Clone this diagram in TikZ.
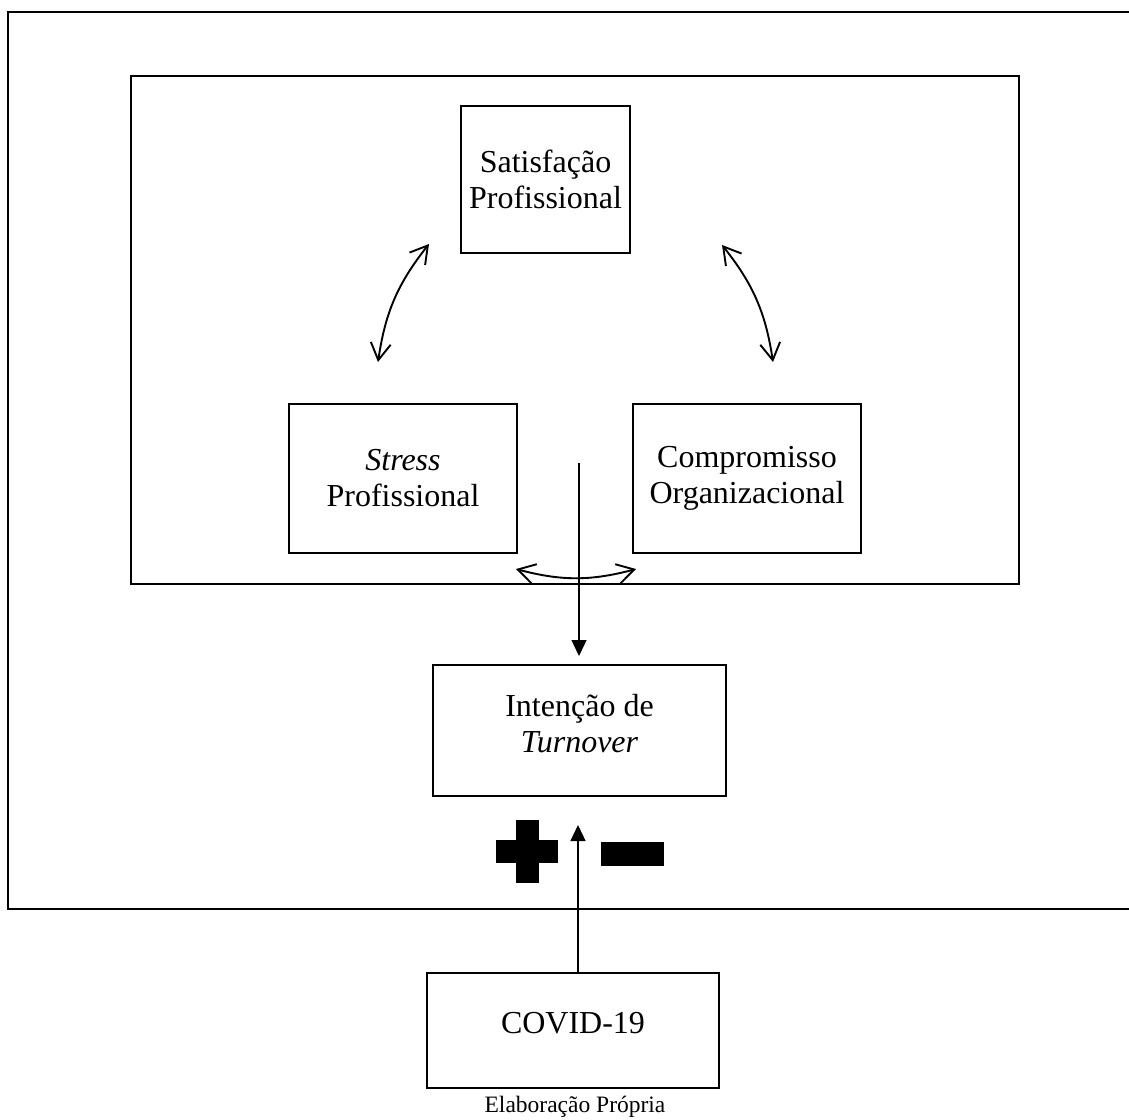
\documentclass[tikz,border=0pt]{standalone}
\usepackage{fontspec}
\setmainfont{Liberation Serif}
\usetikzlibrary{arrows.meta}
\begin{document}
\begin{tikzpicture}[x=1pt,y=-1pt,
  box/.style={draw, line width=2pt, inner sep=0pt, align=center, font=\fontsize{32}{36}\selectfont},
  frame/.style={line width=2.2pt},
  dbl/.style={line width=1.9pt, {Straight Barb[length=17pt,width=20pt,line width=1.9pt]}-{Straight Barb[length=17pt,width=20pt,line width=1.9pt]}},
  thinarrow/.style={line width=1.3pt, -{Triangle[length=16pt,width=15pt]}}]
\useasboundingbox (0,0) rectangle (1129,1119);
% frames
\draw[frame] (1135,12) -- (8,12) -- (8,909) -- (1135,909);
\draw[frame] (131,76) rectangle (1019,584);
% boxes
\node[box, minimum width=169pt, minimum height=147pt] (sat) at (545.5,179.5) {Satisfação\\Profissional};
\node[box, minimum width=228pt, minimum height=149pt] (str) at (403,478.5) {\textit{Stress}\\Profissional};
\node[box, minimum width=228pt, minimum height=149pt] (com) at (747,478.5) {Compromisso\\Organizacional};
\node[box, minimum width=293pt, minimum height=131pt, text depth=14pt] (int) at (579.5,730.5) {Intenção de\\\textit{Turnover}};
\node[box, minimum width=292pt, minimum height=115pt, text depth=16pt] (cov) at (573,1030.5) {COVID-19};
% curved double arrows
\coordinate (la) at (429,244); \coordinate (lb) at (378,362);
\draw[dbl] (la) to[bend right=15] (lb);
\coordinate (ra) at (722,245); \coordinate (rb) at (773,362);
\draw[dbl] (ra) to[bend left=15] (rb);
\coordinate (ba) at (516,569); \coordinate (bb) at (636,569);
\draw[dbl] (ba) to[bend right=15] (bb);
% straight arrows
\coordinate (dtop) at (579,463);
\draw[thinarrow, shorten >=8pt] (dtop) -- (dtop |- int.north);
\coordinate (utip) at (578,825);
\draw[thinarrow] (utip |- cov.north) -- (utip);
% plus and minus
\fill (516,820) rectangle (539,883);
\fill (496,840) rectangle (558,863);
\fill (601,842) rectangle (664,866);
% caption
\node[font=\fontsize{23.5}{28}\selectfont, anchor=base, inner sep=0pt] (cap) at (575,1112) {Elaboração Própria};
\end{tikzpicture}
\end{document}
